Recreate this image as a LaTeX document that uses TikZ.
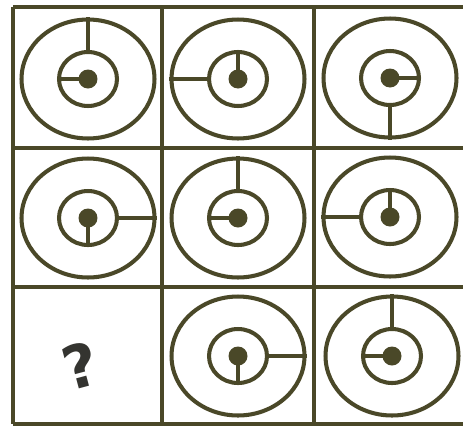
\documentclass[tikz,border=0pt]{standalone}
\usetikzlibrary{shapes.geometric}
\usepackage{xcolor}
\usepackage{fontspec}
\newfontfamily\markfont{DejaVu Sans}
\definecolor{Olive}{HTML}{4A4828}
\definecolor{Mark}{HTML}{343430}

\begin{document}
\begin{tikzpicture}[x=0.02cm,y=-0.02cm,
  outring/.style={ellipse,draw=Olive,line width=2.3pt,minimum width=2.66cm,minimum height=2.38cm,inner sep=0pt},
  inring/.style={ellipse,draw=Olive,line width=2.3pt,minimum width=1.16cm,minimum height=1.08cm,inner sep=0pt},
  hub/.style={circle,fill=Olive,minimum size=0.38cm,inner sep=0pt},
  spoke/.style={draw=Olive,line width=2.3pt},
  gridline/.style={draw=Olive,line width=2.8pt}]
\useasboundingbox (0,0) rectangle (463,430);
\fill[white] (0,0) rectangle (463,430);
% grid
\draw[gridline] (13,7) -- (463,7);
\draw[gridline] (13,148) -- (463,148);
\draw[gridline] (13,287) -- (463,287);
\draw[gridline] (13,424) -- (463,424);
\draw[gridline] (13,7) -- (13,424);
\draw[gridline] (162,7) -- (162,424);
\draw[gridline] (314,7) -- (314,424);
% row 1
\node[outring] (o1) at (88,79) {};
\node[inring] (i1) at (o1) {};
\node[hub] (h1) at (o1) {};
\draw[spoke] (i1.north) -- (o1.north);
\draw[spoke] (h1.center) -- (i1.west);
\node[outring] (o2) at (238,79) {};
\node[inring] (i2) at (o2) {};
\node[hub] (h2) at (o2) {};
\draw[spoke] (i2.west) -- (o2.west);
\draw[spoke] (h2.center) -- (i2.north);
\node[outring] (o3) at (390,78) {};
\node[inring] (i3) at (o3) {};
\node[hub] (h3) at (o3) {};
\draw[spoke] (i3.south) -- (o3.south);
\draw[spoke] (h3.center) -- (i3.east);
% row 2
\node[outring] (o4) at (88,218) {};
\node[inring] (i4) at (o4) {};
\node[hub] (h4) at (o4) {};
\draw[spoke] (i4.east) -- (o4.east);
\draw[spoke] (h4.center) -- (i4.south);
\node[outring] (o5) at (238,218) {};
\node[inring] (i5) at (o5) {};
\node[hub] (h5) at (o5) {};
\draw[spoke] (i5.north) -- (o5.north);
\draw[spoke] (h5.center) -- (i5.west);
\node[outring] (o6) at (390,217) {};
\node[inring] (i6) at (o6) {};
\node[hub] (h6) at (o6) {};
\draw[spoke] (i6.west) -- (o6.west);
\draw[spoke] (h6.center) -- (i6.north);
% row 3
\node[font=\markfont\bfseries\fontsize{34}{34}\selectfont,text=Mark,rotate=15] (q) at (80,366) {?};
\node[outring] (o8) at (238,356) {};
\node[inring] (i8) at (o8) {};
\node[hub] (h8) at (o8) {};
\draw[spoke] (i8.east) -- (o8.east);
\draw[spoke] (h8.center) -- (i8.south);
\node[outring] (o9) at (392,356) {};
\node[inring] (i9) at (o9) {};
\node[hub] (h9) at (o9) {};
\draw[spoke] (i9.north) -- (o9.north);
\draw[spoke] (h9.center) -- (i9.west);
\end{tikzpicture}
\end{document}
